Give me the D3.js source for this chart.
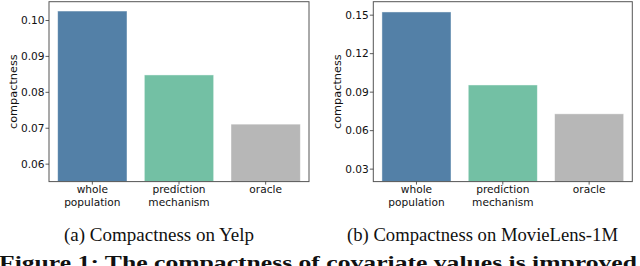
<!DOCTYPE html>
<html><head><meta charset="utf-8">
<script src="https://cdn.jsdelivr.net/npm/d3@7/dist/d3.min.js"></script>
<style>body{margin:0;background:#fff}svg{display:block}</style>
</head><body>
<svg id="c" width="640" height="266"></svg>
<script>
const categories = [["whole","population"],["prediction","mechanism"],["oracle"]];
const colors = ["#5380a7","#73c0a4","#b7b7b7"];
const yelpValues = [0.1025, 0.0847, 0.0710];
const yelpTicks = [0.06, 0.07, 0.08, 0.09, 0.10];
const yelpDomain = [0.055, 0.1051];
const mlValues = [0.1521, 0.0952, 0.0727];
const mlTicks = [0.03, 0.06, 0.09, 0.12, 0.15];
const mlDomain = [0.0199, 0.1601];
const captions = ["(a)  Compactness on Yelp", "(b)  Compactness on MovieLens-1M"];
const figCaption = "Figure 1: The compactness of covariate values is improved";

const svg = d3.select("#c");

function panel(x0, x1, values, ticks, domain, fmt) {
  const top = 1.7, bottom = 181.6;
  const g = svg.append("g");
  const x = d3.scaleBand().domain(d3.range(values.length)).range([x0, x1]).paddingInner(0.2).paddingOuter(0.1);
  const y = d3.scaleLinear().domain(domain).range([bottom, top]);
  g.selectAll("rect.bar").data(values).join("rect").attr("class","bar")
    .attr("x", (d,i)=>x(i)).attr("width", x.bandwidth())
    .attr("y", d=>y(d)).attr("height", d=>bottom - y(d))
    .attr("fill", (d,i)=>colors[i])
    .attr("stroke", "rgba(255,255,255,0.55)").attr("stroke-width", 0.8);
  g.append("rect").attr("x", x0).attr("y", top).attr("width", x1-x0).attr("height", bottom-top)
    .attr("fill","none").attr("stroke","#555").attr("stroke-width",1);
  const ya = d3.axisLeft(y).tickValues(ticks).tickFormat(d3.format(fmt)).tickSize(3.5).tickPadding(1);
  const ag = g.append("g").attr("transform", `translate(${x0},0)`).call(ya);
  ag.select(".domain").remove();
  ag.selectAll("line").attr("stroke","#333").attr("stroke-width",0.8);
  ag.selectAll("text").attr("font-family","DejaVu Sans").attr("font-size","10.6px").attr("fill","#111");
  const xg = g.append("g");
  categories.forEach((c,i)=>{
    const cx = x(i) + x.bandwidth()/2;
    xg.append("line").attr("x1",cx).attr("x2",cx).attr("y1",bottom).attr("y2",bottom+3).attr("stroke","#333").attr("stroke-width",0.8);
    const t = xg.append("text").attr("x",cx).attr("text-anchor","middle")
      .attr("font-family","DejaVu Sans").attr("font-size","10.6px").attr("fill","#111");
    c.forEach((line,j)=>t.append("tspan").attr("x",cx).attr("y",193.3 + j*12.6).text(line));
  });
  g.append("text").attr("transform", `translate(${x0-32},${(top+bottom)/2}) rotate(-90)`)
    .attr("text-anchor","middle").attr("font-family","DejaVu Sans").attr("font-size","11.3px")
    .attr("fill","#111").text("compactness");
}

panel(49, 309, yelpValues, yelpTicks, yelpDomain, ".2f");
panel(373.3, 632.3, mlValues, mlTicks, mlDomain, ".2f");

svg.append("text").attr("x",64).attr("y",241).attr("text-anchor","start")
  .attr("font-family","Liberation Serif").attr("font-size","18px").attr("fill","#111")
  .attr("textLength",190).attr("lengthAdjust","spacingAndGlyphs").text(captions[0]);
svg.append("text").attr("x",347).attr("y",241).attr("text-anchor","start")
  .attr("font-family","Liberation Serif").attr("font-size","18px").attr("fill","#111")
  .attr("textLength",271).attr("lengthAdjust","spacingAndGlyphs").text(captions[1]);
svg.append("text").attr("x",-1).attr("y",269).attr("text-anchor","start")
  .attr("font-family","Liberation Serif").attr("font-weight","bold").attr("font-size","19px")
  .attr("fill","#111").attr("textLength",638).attr("lengthAdjust","spacingAndGlyphs").text(figCaption);
</script>
</body></html>
